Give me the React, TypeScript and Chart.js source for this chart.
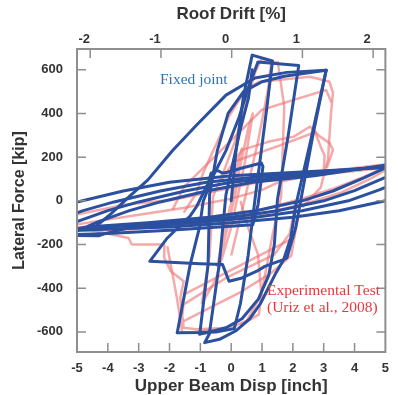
import React, { useEffect, useRef } from 'react';
import { Chart, registerables } from 'chart.js';

Chart.register(...registerables);

// ---------- axis values ----------
const dispTicks = [-5, -4, -3, -2, -1, 0, 1, 2, 3, 4, 5];
const driftTicks = [-2, -1, 0, 1, 2];
const forceTicks = [-600, -400, -200, 0, 200, 400, 600];
const dispRange = [-5, 5];
const driftRange = [-2.187, 2.173];
const forceRange = [-692, 695];

// ---------- simulation (Fixed joint) : [disp inch, force kip] ----------
const simCycle1 = [[0, 0], [0.15, 220], [0.4, 480], [0.68, 667], [1.34, 640], [1.15, 420], [0.95, 200], [0.77, 5], [0.55, -250], [0.3, -470], [0.1, -585], [-0.5, -600], [-1.0, -603], [-1.75, -604]];
const simCycle2 = [[-1.75, -604], [-1.33, -292], [-1.02, -117], [-0.91, -3], [-0.6, 110], [-0.17, 230], [0.25, 380], [0.56, 520], [0.87, 636], [2.19, 620], [1.85, 300], [1.5, 5], [1.4, -200], [1.22, -340], [0.88, -450], [0.35, -540], [-0.17, -581], [-0.8, -604], [-1.02, -610]];
const simCycle3 = [[-1.02, -610], [-0.75, -292], [-0.7, 28], [-0.45, 230], [-0.1, 400], [0.4, 500], [1.0, 545], [1.72, 570], [3.08, 598], [2.6, 290], [2.1, -18], [1.93, -170], [1.7, -270], [1.45, -330], [1.2, -400], [0.95, -470], [0.6, -540], [0.14, -596], [-0.38, -634], [-0.86, -649], [-0.71, -610], [-0.39, -292], [-0.17, 28], [0.3, 330], [0.56, 470], [0.68, 600]];
const simCycle4 = [[3.08, 598], [2.65, 300], [2.09, -123], [1.81, -260], [1.72, -268], [1.4, -284], [1.09, -300], [0.83, -322], [0.35, -353], [-0.07, -368], [-0.28, -292], [-1.0, -288], [-2.64, -277], [-2.07, -170], [-1.34, -71], [-1.12, -26], [-0.75, 80], [-0.65, 127], [-0.44, 139], [-0.28, 127], [-0.12, 131], [0.35, 150], [0.98, 173], [1.03, 157], [0.87, -18], [0.7, -110], [-2.0, -135], [-4.0, -150], [-5.3, -155]];
const simCycle5 = [[-4.5, -130], [-3.9, -60], [-3.3, 20], [-2.7, 96], [-1.9, 230], [-1.12, 347], [-0.17, 484], [0.77, 562], [1.8, 588], [3.08, 598]];
const simLarge1 = [[-5.3, -155], [-4.3, -95], [-3.3, -45], [-2.3, -5], [-0.8, 45], [0.7, 85], [2.7, 115], [5.3, 170], [4.3, 105], [3.3, 45], [2.3, 0], [0.8, -45], [-0.7, -75], [-2.7, -100], [-4.7, -120], [-6.0, -155]];
const simLarge2 = [[-6.0, -155], [-5.0, -95], [-4.0, -45], [-3.0, -5], [-1.5, 45], [0.0, 85], [2.0, 115], [6.0, 172], [5.0, 107], [4.0, 47], [3.0, 0], [1.5, -45], [0.0, -75], [-2.0, -100], [-4.0, -120], [-6.8, -155]];
const simLarge3 = [[-6.8, -155], [-5.8, -95], [-4.8, -45], [-3.8, -5], [-2.3, 45], [-0.8, 85], [1.2, 115], [6.8, 175], [5.8, 110], [4.8, 50], [3.8, 0], [2.3, -45], [0.8, -75], [-1.2, -100], [-3.2, -120], [-4.1, -150], [-4.3, -160], [-8.0, -155]];
const simLarge4 = [[-8.0, -155], [-7.0, -95], [-6.0, -45], [-5.0, -5], [-3.5, 45], [-2.0, 85], [0.0, 115], [8.0, 175], [7.0, 110], [6.0, 50], [5.0, 0], [3.5, -45], [2.0, -75], [0.0, -100], [-2.0, -120], [-8.0, -150]];

// ---------- experimental test (Uriz et al., 2008) ----------
const expCycle1 = [[0, 0], [0.2, 160], [0.35, 240], [0.15, 40], [-0.25, -200], [-0.45, -300], [-0.2, -120], [0.25, 130], [0.55, 330], [0.7, 400], [0.45, 180], [0.0, -120], [-0.5, -360], [-0.95, -470], [-0.7, -250], [-0.59, 20]];
const expCycle2 = [[-0.59, 20], [-0.2, 150], [0.14, 279], [0.45, 430], [0.77, 585], [0.98, 649], [1.4, 634], [1.51, 636], [1.72, 431], [1.62, 20], [1.35, -150], [0.98, -429], [0.5, -550], [-0.07, -581], [-1.12, -588], [-1.54, -581], [-1.65, -444], [-1.54, -368], [-1.96, -322], [-2.17, -261], [-2.17, -200], [-3.22, -200], [-3.33, -170], [-4.61, -132], [-5.3, -125]];
const expRise2 = [[0.0, -250], [0.46, 20], [0.88, 279], [1.19, 507], [1.3, 631], [1.4, 634]];
const expBox = [[-1.54, -54], [-1.12, 37], [-0.91, 128], [-0.08, 385], [0.46, 507], [0.9, 545], [1.51, 553], [2.56, 568], [3.19, 545], [3.3, 494], [3.23, 390], [3.14, 192], [2.9, 60], [2.3, -30]];
const expMid = [[-0.3, 100], [0.35, 233], [1.2, 270], [2.03, 294], [2.56, 340], [2.88, 294], [3.19, 264], [3.3, 233], [3.1, 150]];
const expMid2 = [[0.1, 180], [1.56, 253], [2.72, 314], [2.93, 238], [3.03, 207], [3.0, 140]];
const expRise4 = [[-1.9, -40], [-1.53, 64], [-0.08, 265], [0.99, 416], [2.03, 462], [3.08, 507], [3.25, 450]];
const expNegSteep = [[0.3, 0], [0.55, -123], [0.87, -246], [0.98, -429], [0.9, -520], [0.3, -570]];
const expNegLeft = [[-2.07, -208], [-1.75, -452], [-1.59, -602], [-1.2, -600], [-0.6, -590]];
const expDiag1 = [[-1.59, -520], [-1.54, -474], [-0.17, -353], [1.4, -246], [1.9, -150], [2.1, 0]];
const expDiag2 = [[-1.54, -551], [0.35, -414], [1.3, -330], [1.95, -250], [2.15, -80]];
const expDiag3 = [[-1.54, -429], [-0.07, -322], [2.03, -170], [2.2, -60]];
const expReload = [[-5.4, -125], [-5.03, -109], [-4.4, -94], [-2.93, -63], [-1.56, -33], [0.0, 10], [1.0, 50], [1.56, 87], [2.6, 116], [4.7, 147], [5.3, 165]];
const expUpFan = [[-5.4, -110], [-5.03, -63], [-3.45, -18], [-1.88, 5], [-0.3, 51], [1.0, 90], [2.5, 125], [4.0, 150], [5.3, 172]];
const expDown1 = [[5.3, 172], [4.3, 110], [3.3, 55], [2.3, 10], [1.0, -40], [-1.0, -80], [-3.0, -110], [-5.4, -125]];
const expDown2 = [[5.3, 165], [4.5, 100], [3.6, 40], [2.5, -10], [1.0, -60], [-1.0, -100], [-3.2, -130], [-5.4, -140]];

const simSeries = [simCycle1, simCycle2, simCycle3, simCycle4, simCycle5, simLarge1, simLarge2, simLarge3, simLarge4];
const expSeries = [expCycle1, expCycle2, expRise2, expBox, expMid, expMid2, expRise4, expNegSteep, expNegLeft, expDiag1, expDiag2, expDiag3, expReload, expUpFan, expDown1, expDown2];

const SANS = '"Liberation Sans", Arial, Helvetica, sans-serif';
const SERIF = '"Liberation Serif", "Times New Roman", serif';
const TEXT = '#333333';

const decorPlugin = {
  id: 'decor',
  afterDatasetsDraw(chart: any) {
    const { ctx, chartArea, scales } = chart;
    const { left, right, top, bottom } = chartArea;
    const L = 9;
    ctx.save();
    ctx.strokeStyle = '#8e8e8e';
    ctx.lineWidth = 1.5;
    ctx.beginPath();
    dispTicks.forEach((v) => {
      const px = scales.x.getPixelForValue(v);
      if (px > left + 2 && px < right - 2) { ctx.moveTo(px, bottom); ctx.lineTo(px, bottom - L); }
    });
    driftTicks.forEach((v) => {
      const px = scales.x2.getPixelForValue(v);
      if (px > left + 2 && px < right - 2) { ctx.moveTo(px, top); ctx.lineTo(px, top + L); }
    });
    forceTicks.forEach((v) => {
      const py = scales.y.getPixelForValue(v);
      ctx.moveTo(left, py); ctx.lineTo(left + L, py);
      ctx.moveTo(right, py); ctx.lineTo(right - L, py);
    });
    ctx.stroke();
    ctx.lineWidth = 2;
    ctx.strokeRect(left, top, right - left, bottom - top);

    ctx.textAlign = 'left';
    ctx.textBaseline = 'alphabetic';
    ctx.font = '15.5px ' + SERIF;
    ctx.fillStyle = '#2e74b8';
    ctx.fillText('Fixed joint', 160, 84);
    ctx.fillStyle = '#e8383b';
    ctx.fillText('Experimental Test', 267, 295);
    ctx.fillText('(Uriz et al., 2008)', 267, 312);
    ctx.restore();
  },
};

const toPoints = (arr: number[][]) => arr.map(([x, y]) => ({ x, y }));

export default function App() {
  const ref = useRef<HTMLCanvasElement>(null);
  useEffect(() => {
    if (!ref.current) return;
    const datasets: any[] = [];
    simSeries.forEach((s, i) => datasets.push({
      label: 'Fixed joint ' + (i + 1),
      data: toPoints(s),
      borderColor: '#2b50a0',
      borderWidth: 3,
      showLine: true,
      pointRadius: 0,
      tension: 0,
      borderJoinStyle: 'round',
      borderCapStyle: 'round',
      clip: 0,
    }));
    expSeries.forEach((s, i) => datasets.push({
      label: 'Experimental ' + (i + 1),
      data: toPoints(s),
      borderColor: 'rgba(238,112,112,0.6)',
      borderWidth: 2.5,
      showLine: true,
      pointRadius: 0,
      tension: 0,
      borderJoinStyle: 'round',
      clip: 0,
    }));
    const tickFont = { family: SANS, size: 13, weight: 'bold' as const };
    const xTitleFont = { family: SANS, size: 17, weight: 'bold' as const, lineHeight: 1 };
    const yTitleFont = { family: SANS, size: 16, weight: 'bold' as const, lineHeight: 1 };
    const chart = new Chart(ref.current, {
      type: 'scatter',
      data: { datasets },
      plugins: [decorPlugin],
      options: {
        responsive: false,
        animation: false,
        events: [],
        layout: { padding: { left: 0, right: 4, top: 0, bottom: 0 } },
        plugins: { legend: { display: false }, tooltip: { enabled: false }, title: { display: false } },
        scales: {
          x: {
            type: 'linear', position: 'bottom', min: dispRange[0], max: dispRange[1],
            afterBuildTicks: (s: any) => { s.ticks = dispTicks.map((v) => ({ value: v })); },
            afterFit: (s: any) => { s.height = 43; },
            grid: { display: false, drawTicks: false },
            border: { display: false },
            ticks: { font: tickFont, color: TEXT, padding: 9, maxRotation: 0, autoSkip: false },
            title: { display: true, text: 'Upper Beam Disp [inch]', font: xTitleFont, color: TEXT, padding: { top: 0, bottom: 0 } },
          },
          x2: {
            type: 'linear', position: 'top', min: driftRange[0], max: driftRange[1],
            afterBuildTicks: (s: any) => { s.ticks = driftTicks.map((v) => ({ value: v })); },
            afterFit: (s: any) => { s.height = 49; },
            grid: { display: false, drawTicks: false },
            border: { display: false },
            ticks: { font: tickFont, color: TEXT, padding: 2, maxRotation: 0, autoSkip: false, labelOffset: -6 },
            title: { display: true, text: 'Roof Drift [%]', font: xTitleFont, color: TEXT, padding: { top: 6, bottom: 0 } },
          },
          y: {
            type: 'linear', position: 'left', min: forceRange[0], max: forceRange[1],
            afterBuildTicks: (s: any) => { s.ticks = forceTicks.map((v) => ({ value: v })); },
            afterFit: (s: any) => { s.width = 77; },
            grid: { display: false, drawTicks: false },
            border: { display: false },
            ticks: { font: tickFont, color: TEXT, padding: 14, autoSkip: false },
            title: { display: true, text: 'Lateral Force [kip]', font: yTitleFont, color: TEXT, padding: { top: 12, bottom: 0 } },
          },
        },
      } as any,
    });
    return () => chart.destroy();
  }, []);
  return (
    <div style={{ position: 'absolute', left: 0, top: 0, width: 398, height: 395 }}>
      <canvas ref={ref} width={398} height={395} style={{ display: 'block' }} />
    </div>
  );
}
